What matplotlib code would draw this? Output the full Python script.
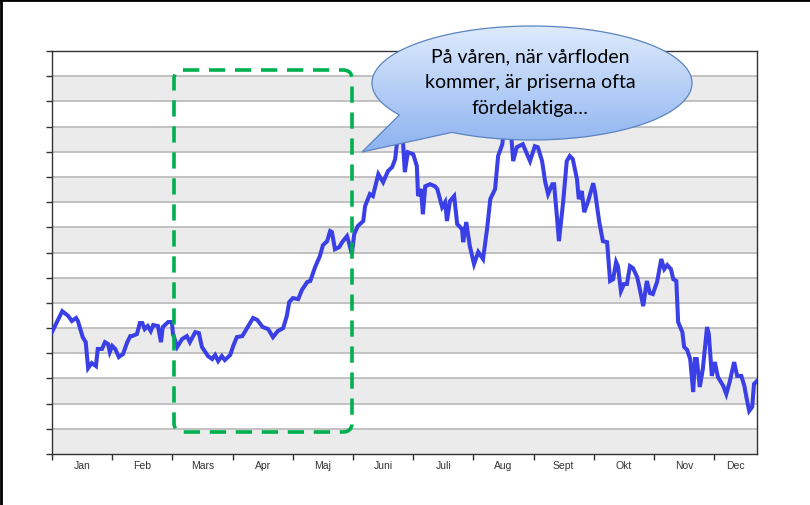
import matplotlib
matplotlib.use("Agg")
import matplotlib.pyplot as plt
import numpy as np
from matplotlib.patches import FancyBboxPatch, Polygon

# months, ticks and labels
month_names = ["Jan", "Feb", "Mars", "Apr", "Maj", "Juni", "Juli", "Aug",
               "Sept", "Okt", "Nov", "Dec"]
x_end = 11.71   # axis stops a bit before end of december
y_top = 16

# price curve, x in months from 1 jan, y in grid steps
price_x = [0.00, 0.17, 0.27, 0.33, 0.40, 0.43, 0.51, 0.56, 0.60, 0.66,
           0.73, 0.76, 0.83, 0.88, 0.93, 0.96, 1.00, 1.05, 1.11, 1.18,
           1.25, 1.30, 1.33, 1.41, 1.46, 1.50, 1.54, 1.59, 1.64, 1.68,
           1.76, 1.81, 1.84, 1.93, 1.99, 2.01, 2.08, 2.16, 2.24, 2.29,
           2.38, 2.44, 2.49, 2.59, 2.66, 2.71, 2.76, 2.82, 2.87, 2.96,
           3.01, 3.07, 3.16, 3.21, 3.26, 3.34, 3.41, 3.50, 3.59, 3.67,
           3.75, 3.84, 3.90, 3.94, 4.00, 4.09, 4.15, 4.24, 4.29, 4.37,
           4.45, 4.50, 4.57, 4.62, 4.65, 4.70, 4.77, 4.82, 4.90, 4.93,
           4.98, 5.02, 5.08, 5.17, 5.20, 5.28, 5.33, 5.42, 5.50, 5.58,
           5.65, 5.70, 5.75, 5.80, 5.83, 5.86, 5.91, 6.00, 6.06, 6.08,
           6.13, 6.16, 6.20, 6.28, 6.36, 6.40, 6.48, 6.53, 6.56, 6.61,
           6.68, 6.73, 6.81, 6.83, 6.88, 6.94, 7.01, 7.08, 7.16, 7.23,
           7.28, 7.36, 7.41, 7.48, 7.52, 7.57, 7.61, 7.66, 7.72, 7.82,
           7.94, 8.02, 8.07, 8.14, 8.19, 8.24, 8.31, 8.34, 8.39, 8.42,
           8.49, 8.55, 8.60, 8.65, 8.72, 8.75, 8.80, 8.84, 8.90, 8.99,
           9.02, 9.09, 9.15, 9.22, 9.27, 9.32, 9.37, 9.40, 9.45, 9.50,
           9.55, 9.60, 9.65, 9.72, 9.77, 9.82, 9.88, 9.93, 9.98, 10.05,
           10.12, 10.17, 10.22, 10.28, 10.32, 10.37, 10.40, 10.47, 10.50, 10.55,
           10.60, 10.65, 10.68, 10.71, 10.76, 10.81, 10.88, 10.91, 10.96, 11.01,
           11.06, 11.15, 11.20, 11.26, 11.33, 11.38, 11.45, 11.50, 11.54, 11.58,
           11.63, 11.66, 11.71]
price_y = [4.84, 5.67, 5.48, 5.28, 5.40, 5.28, 4.64, 4.44, 3.41, 3.61,
           3.49, 4.17, 4.17, 4.44, 4.37, 4.05, 4.29, 4.17, 3.85, 3.97,
           4.44, 4.68, 4.68, 4.76, 5.20, 5.20, 4.96, 5.08, 4.88, 5.12,
           5.08, 4.44, 5.04, 5.24, 5.24, 4.76, 4.25, 4.56, 4.68, 4.44,
           4.84, 4.80, 4.25, 3.89, 3.77, 3.93, 3.69, 3.89, 3.73, 3.93,
           4.29, 4.64, 4.68, 4.88, 5.08, 5.40, 5.32, 5.04, 4.96, 4.64,
           4.88, 5.00, 5.48, 6.03, 6.19, 6.15, 6.51, 6.83, 6.87, 7.42,
           7.86, 8.29, 8.45, 8.85, 8.81, 8.13, 8.21, 8.41, 8.65, 8.41,
           7.94, 8.73, 9.05, 9.25, 9.84, 10.32, 10.24, 11.11, 10.79, 11.23,
           11.39, 11.71, 12.78, 13.61, 12.38, 11.19, 11.98, 11.90, 11.43, 10.24,
           10.52, 9.52, 10.63, 10.71, 10.63, 10.52, 9.80, 10.00, 9.25, 10.04,
           10.24, 9.13, 8.93, 8.41, 9.21, 8.25, 7.54, 8.02, 7.74, 9.01,
           10.12, 10.52, 11.83, 12.30, 13.37, 12.58, 13.21, 11.63, 12.18, 12.30,
           11.63, 12.22, 12.18, 11.63, 10.83, 10.32, 10.71, 10.71, 9.33, 8.45,
           10.00, 11.63, 11.83, 11.71, 10.91, 10.12, 10.44, 9.60, 10.00, 10.75,
           10.40, 9.21, 8.45, 8.41, 6.87, 6.94, 7.62, 7.46, 6.47, 6.75,
           6.75, 7.46, 7.38, 7.02, 6.47, 5.87, 6.87, 6.39, 6.35, 6.83,
           7.74, 7.34, 7.50, 7.34, 6.94, 6.87, 5.24, 4.84, 4.25, 4.13,
           3.77, 2.46, 3.77, 3.77, 2.66, 3.37, 5.04, 4.76, 3.10, 3.65,
           3.06, 2.70, 2.38, 2.90, 3.65, 3.10, 3.10, 2.70, 2.18, 1.71,
           1.87, 2.78, 2.90]

callout_lines = ["På våren, när vårfloden", "kommer, är priserna ofta", "fördelaktiga…"]

fig = plt.figure(figsize=(8.1, 5.06), dpi=100)
ax = fig.add_axes([52/810, 1-455/506, 705/810, 403/506])

# alternating grey bands
for k in range(0, y_top, 2):
    ax.axhspan(k, k+1, color="#ebebeb", lw=0, zorder=0)
for k in range(1, y_top):
    ax.axhline(k, color="#bdbdbd", lw=1.3, zorder=1)

ax.plot(price_x, price_y, color="#3a3fe6", lw=2.9, zorder=3,
        solid_joinstyle="miter")

ax.set_xlim(0, x_end)
ax.set_ylim(0, y_top)
ax.set_yticks(range(0, y_top+1))
ax.set_yticklabels([])
ax.set_xticks(range(0, 12))
ax.set_xticklabels([])
label_pos = [i+0.5 for i in range(11)] + [(11+x_end)/2]
ax.set_xticks(label_pos, minor=True)
ax.set_xticklabels(month_names, minor=True, fontsize=7.5, color="#333333",
                   family="Liberation Sans")
ax.tick_params(axis="both", which="major", direction="out", length=4,
               width=1, color="#333333")
ax.tick_params(axis="x", which="minor", length=0, pad=4)
for s in ax.spines.values():
    s.set_color("#333333")
    s.set_linewidth(1)

# overlay in pixel units for the annotations
ov = fig.add_axes([0, 0, 1, 1], zorder=5)
ov.set_axis_off()
ov.patch.set_alpha(0)

box = FancyBboxPatch((174, 71), 178, 362, boxstyle="round,pad=0,rounding_size=9",
                     fill=False, ec="#00b050", lw=2.6, ls=(0, (4.5, 2.7)))
ov.add_patch(box)

# callout: ellipse with a wedge pointing left-down
cx, cy, a, b = 532, 84, 160, 57
t = np.radians(np.linspace(120, -214, 200))
pts = np.column_stack([cx + a*np.cos(t), cy + b*np.sin(t)])
pts = np.vstack([pts, [362, 153]])
bubble = Polygon(pts, closed=True, fc="none", ec="#5b84c0", lw=0.9, zorder=6)
grad = np.linspace(0, 1, 256)[:, None, None]
top_c = np.array([0.87, 0.92, 0.99])
bot_c = np.array([0.55, 0.70, 0.94])
img = top_c*(1-grad) + bot_c*grad
im = ov.imshow(img, extent=[362, 692, 153, 27], aspect="auto", zorder=5,
               interpolation="bilinear")
fill = Polygon(pts, closed=True, fc="none", ec="none")
ov.add_patch(fill)
im.set_clip_path(fill)
ov.add_patch(bubble)
for i, line in enumerate(callout_lines):
    ov.text(530, 57 + i*25.5, line, ha="center", va="center", fontsize=14,
            family="Lato", color="black", zorder=7)

# slide frame on top/left
ov.plot([0, 810], [0.8, 0.8], color="black", lw=2)
ov.plot([0.8, 0.8], [0, 506], color="black", lw=2)

ov.set_xlim(0, 810)
ov.set_ylim(506, 0)

fig.savefig("out.png", dpi=100)
